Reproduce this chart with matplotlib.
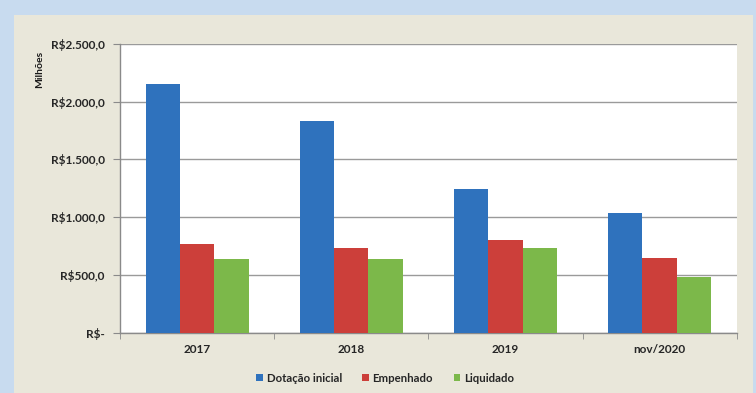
import matplotlib
matplotlib.use("Agg")
import matplotlib.pyplot as plt
import numpy as np
from matplotlib.patches import Rectangle

categories = ["2017", "2018", "2019", "nov/2020"]
dotacao = [2152, 1834, 1243, 1040]
empenhado = [766, 731, 803, 645]
liquidado = [641, 636, 731, 483]
series_names = ["Dotação inicial", "Empenhado", "Liquidado"]
yticks = [0, 500, 1000, 1500, 2000, 2500]
ytick_labels = ["R$-", "R$500,0", "R$1.000,0", "R$1.500,0", "R$2.000,0", "R$2.500,0"]

plt.rcParams['font.family'] = ['Lato', 'DejaVu Sans']

W, H = 756, 393
fig = plt.figure(figsize=(W / 100, H / 100), dpi=100)
fig.patch.set_facecolor("#c8dbef")
fig.patches.append(Rectangle((14 / W, 0), (753 - 14) / W, (H - 15) / H,
                             transform=fig.transFigure, facecolor="#e9e7da",
                             edgecolor="none", zorder=-10))

ax = fig.add_axes([120 / W, 1 - 332.7 / H, (736.7 - 120) / W, (332.7 - 44) / H])
ax.set_zorder(5)
ax.set_facecolor("white")

colors = ["#2f72bd", "#cc3f3a", "#7cb84a"]
x = np.arange(len(categories))
bw = 0.223
for i, (vals, c, name) in enumerate(zip([dotacao, empenhado, liquidado], colors, series_names)):
    ax.bar(x + (i - 1) * bw, vals, width=bw, color=c, label=name, zorder=3)

ax.set_xlim(-0.5, len(categories) - 0.5)
ax.set_ylim(0, 2500)
ax.set_yticks(yticks)
ax.set_yticklabels(ytick_labels, fontsize=8.5, fontweight="bold", color="#262626")
ax.yaxis.grid(True, color="#9a9a9a", linewidth=1.0, zorder=0)
ax.set_axisbelow(True)
ax.set_xticks(x)
ax.set_xticklabels(categories, fontsize=8.5, fontweight="bold", color="#262626")
ax.set_xticks(np.arange(len(categories) + 1) - 0.5, minor=True)
ax.tick_params(axis="x", which="major", length=0, pad=8)
ax.tick_params(axis="x", which="minor", length=4, color="#8a8a8a", direction="out")
ax.tick_params(axis="y", length=5, color="#8a8a8a", pad=6)
for s in ["top", "right"]:
    ax.spines[s].set_visible(False)
for s in ["left", "bottom"]:
    ax.spines[s].set_color("#8a8a8a")
    ax.spines[s].set_linewidth(1.0)

ax.set_ylabel("Milhões", fontsize=7.5, fontweight="bold", color="#1a1a1a")
ax.yaxis.set_label_coords(-0.123, 0.913)

leg = fig.legend(loc="center", bbox_to_anchor=(385 / W, 1 - 378 / H), ncol=3,
                 frameon=False, fontsize=8.2, handlelength=0.6, handleheight=0.6,
                 handletextpad=0.3, columnspacing=1.8)
for t in leg.get_texts():
    t.set_fontweight("bold")
    t.set_color("#262626")

fig.savefig("out.png", dpi=100, facecolor=fig.get_facecolor())
